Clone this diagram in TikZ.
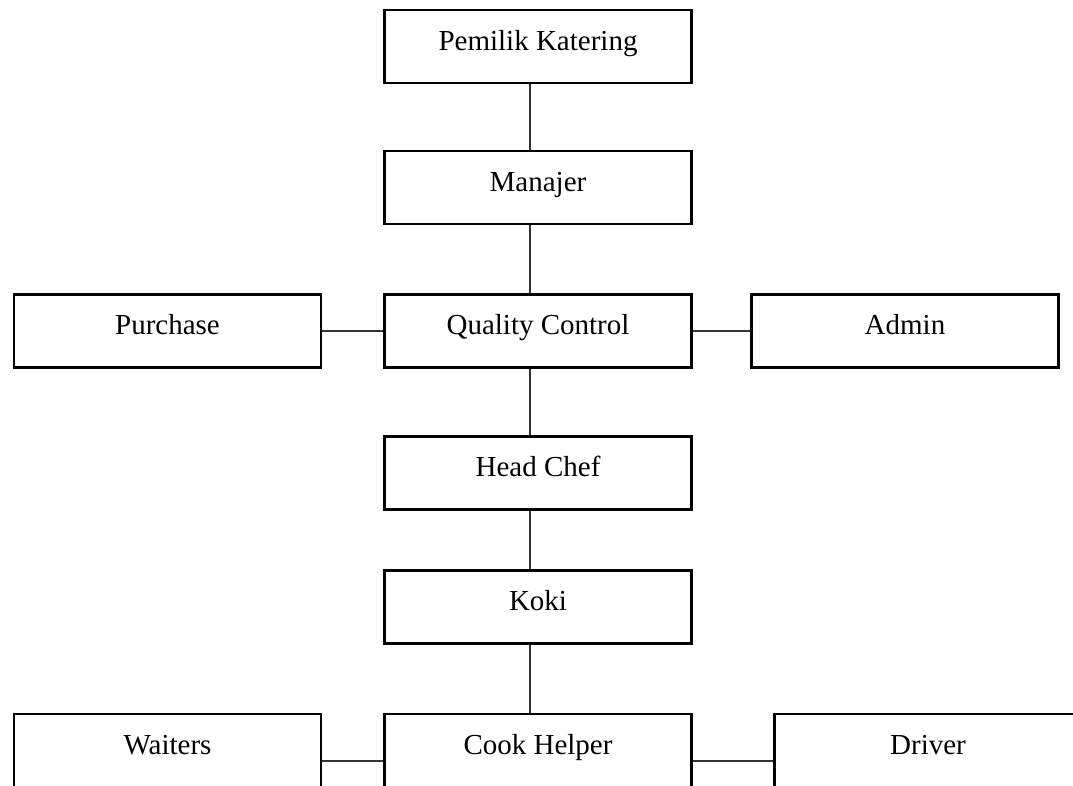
\documentclass[tikz,border=0pt]{standalone}
\usepackage{fontspec}
\setmainfont{Liberation Serif}
\tikzset{
	jabatan/.style={draw,line width=2.5pt,rectangle,minimum width=307pt,inner sep=0pt,
		text height=40pt,text depth=33pt,font=\fontsize{29}{35}\selectfont},
	bawah/.style={jabatan,text depth=54pt},
	hub/.style={line width=1.2pt,black!80}
}
\begin{document}
\begin{tikzpicture}[x=1pt,y=-1pt]
			\useasboundingbox (0,0) rectangle (1073,785);
			\clip (0,0) rectangle (1073,785);
			% jabatan
			\node[jabatan] (pemilik) at (538,46.5) {Pemilik Katering};
			\node[jabatan] (manajer) at (538,187.5) {Manajer};
			\node[jabatan] (qc) at (538,331) {Quality Control};
			\node[jabatan] (purchase) at (167.5,331) {Purchase};
			\node[jabatan] (admin) at (905,331) {Admin};
			\node[jabatan] (headchef) at (538,473) {Head Chef};
			\node[jabatan] (koki) at (538,607) {Koki};
			\node[bawah] (cook) at (538,761) {Cook Helper};
			\node[bawah] (waiters) at (167.5,761) {Waiters};
			\node[bawah] (driver) at (928,761) {Driver};
			% garis
			\foreach \a/\b in {pemilik/manajer,manajer/qc,qc/headchef,headchef/koki,koki/cook}
				\draw[hub] ([xshift=-8pt]\a.south) -- ([xshift=-8pt]\b.north);
			\draw[hub] (purchase.east) -- (qc.west);
			\draw[hub] (qc.east) -- (admin.west);
			\draw[hub] (waiters.east) -- (cook.west);
			\draw[hub] (cook.east) -- (driver.west);
\end{tikzpicture}
\end{document}
